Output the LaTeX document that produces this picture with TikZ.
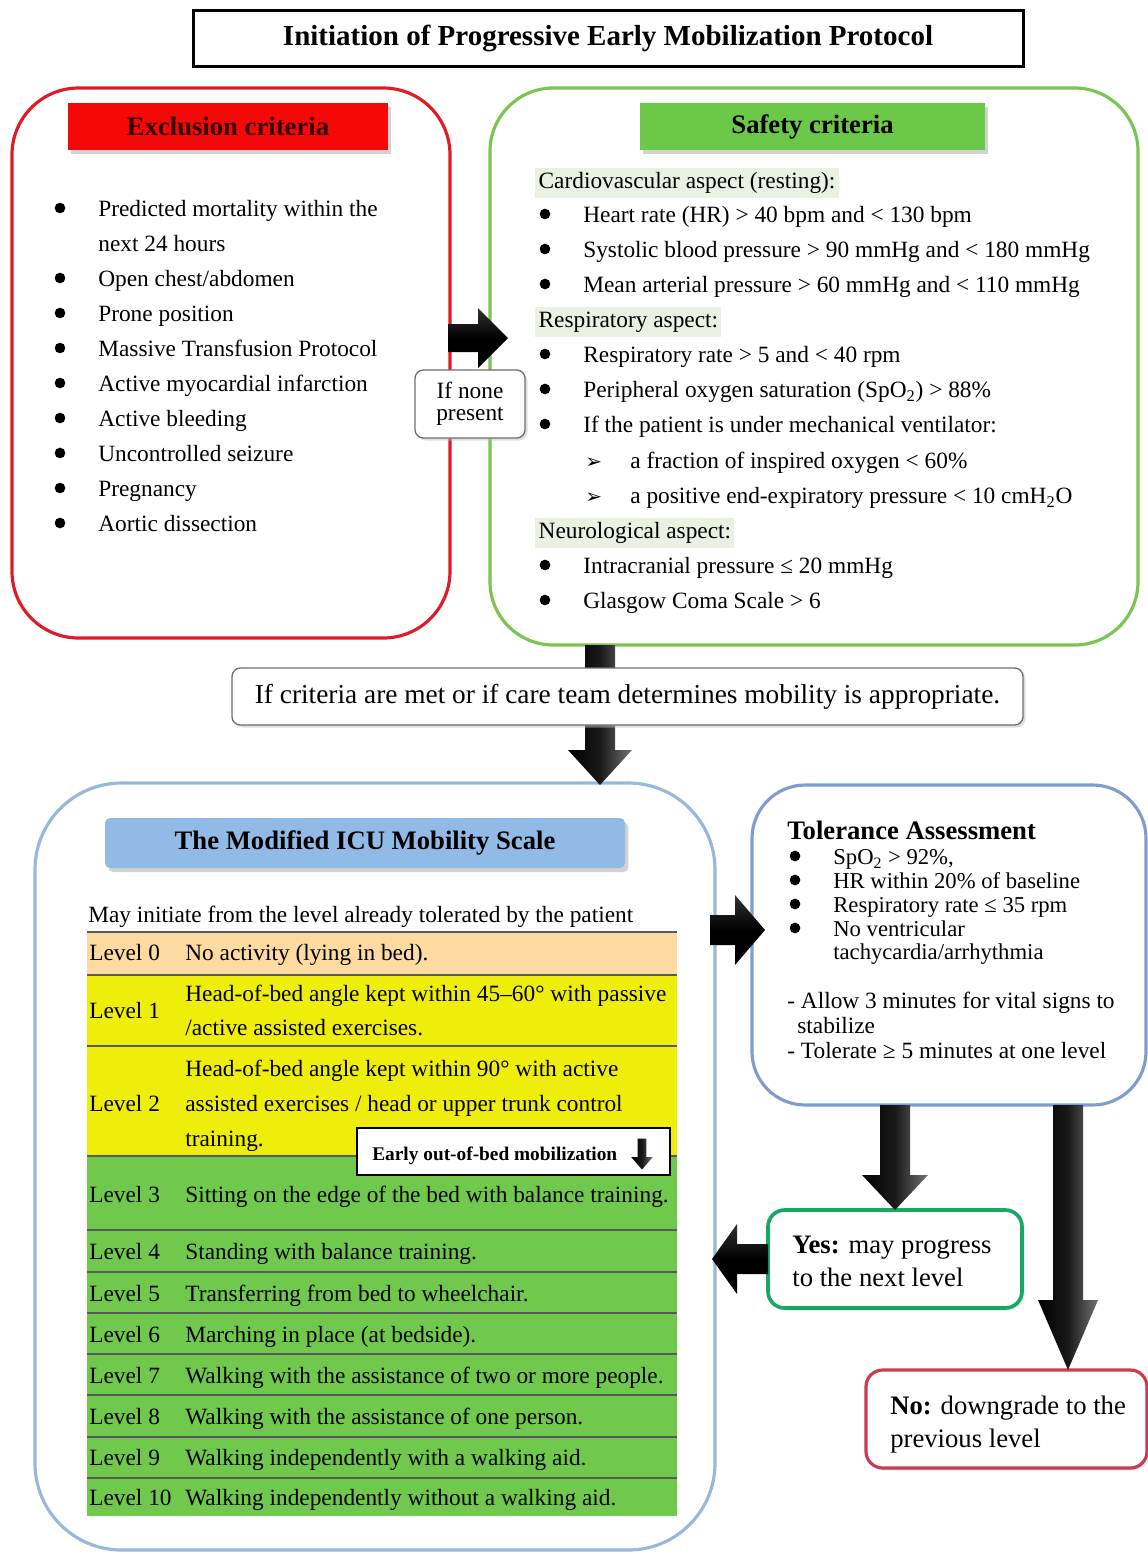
\documentclass[tikz,border=0pt]{standalone}
\usepackage{fontspec}
\setmainfont{Liberation Serif}
\newfontfamily\dejavu{DejaVu Sans}
\usetikzlibrary{calc,shadows}
\definecolor{exred}{RGB}{222,28,40}
\definecolor{exhead}{RGB}{245,8,8}
\definecolor{sfgreen}{RGB}{122,196,82}
\definecolor{sfhead}{RGB}{108,200,72}
\definecolor{aspbg}{RGB}{234,240,226}
\definecolor{scblue}{RGB}{150,184,220}
\definecolor{schead}{RGB}{146,186,230}
\definecolor{tolblue}{RGB}{128,156,206}
\definecolor{lvzero}{RGB}{252,218,160}
\definecolor{lvyel}{RGB}{238,238,10}
\definecolor{lvgrn}{RGB}{112,200,76}
\definecolor{yesgreen}{RGB}{24,168,100}
\definecolor{nored}{RGB}{200,60,80}
\definecolor{greyline}{RGB}{110,110,110}
% block arrow: [style]{from}{to}{half stem}{half head}{head length}
\newcommand{\blockarrow}[6][arrowv]{%
  \coordinate (bah) at ($(#3)!#6!(#2)$);
  \path[#1] ($(#2)!#4!90:(#3)$) -- ($(bah)!#4!90:(#3)$) -- ($(bah)!#5!90:(#3)$) -- (#3)
    -- ($(bah)!#5!-90:(#3)$) -- ($(bah)!#4!-90:(#3)$) -- ($(#2)!#4!-90:(#3)$) -- cycle;}
\tikzset{
  tx/.style={anchor=west, inner sep=0pt, yshift=-1.8pt, font=\fontsize{14}{16}\selectfont, text height=9.5pt, text depth=2.5pt},
  txt/.style={tx, font=\fontsize{13.6}{15}\selectfont, text height=9pt, text depth=2.4pt},
  txb/.style={tx, font=\bfseries\fontsize{16}{18}\selectfont, text height=11pt, text depth=3pt},
  asp/.style={tx, fill=aspbg, inner xsep=2pt, inner ysep=3pt},
  hdr/.style={inner sep=0pt, font=\bfseries\fontsize{16}{18}\selectfont,
     drop shadow={shadow xshift=2pt, shadow yshift=-2.5pt, fill=black!35}},
  bigbox/.style={draw, fill=white, inner sep=0pt, outer sep=0pt, line width=1.9pt},
  smallbox/.style={draw=greyline, fill=white, inner sep=0pt, line width=0.8pt, rounded corners=5pt,
     drop shadow={shadow xshift=1.5pt, shadow yshift=-1.5pt, fill=black!25}},
  arrowv/.style={left color=black, right color=black!55, middle color=black!90},
  arrowh/.style={top color=black!80, bottom color=black, middle color=black},
  rowline/.style={line width=1pt, black!65},
  bul/.style={fill=black},
}
\begin{document}
\begin{tikzpicture}[x=0.6pt, y=-0.6pt]
\useasboundingbox (0,0) rectangle (1147,1554);

% ---------- title
\node[draw, line width=1.8pt, inner sep=0pt, minimum width=830*0.6pt, minimum height=56*0.6pt,
  font=\bfseries\fontsize{17.4}{20}\selectfont] (title) at (608,38)
  {Initiation of Progressive Early Mobilization Protocol};

% ---------- big boxes
\node[bigbox, draw=exred, rounded corners=40pt, minimum width=438*0.6pt, minimum height=550*0.6pt] (excl) at (231,363) {};
\node[bigbox, draw=sfgreen, rounded corners=38pt, minimum width=648*0.6pt, minimum height=557*0.6pt] (safety) at (814,366.5) {};
\node[bigbox, draw=scblue, rounded corners=52pt, minimum width=680*0.6pt, minimum height=767*0.6pt] (scale) at (375,1166.5) {};
\node[bigbox, draw=tolblue, rounded corners=32pt, minimum width=394*0.6pt, minimum height=320*0.6pt] (tol) at (949,945) {};
\node[bigbox, draw=yesgreen, line width=2.2pt, rounded corners=10pt, minimum width=254*0.6pt, minimum height=98*0.6pt,
  drop shadow={shadow xshift=1.5pt, shadow yshift=-1.5pt, fill=black!20}] (yes) at (895,1259) {};
\node[bigbox, draw=nored, rounded corners=10pt, minimum width=281*0.6pt, minimum height=98*0.6pt,
  drop shadow={shadow xshift=1.5pt, shadow yshift=-1.5pt, fill=black!20}] (no) at (1006.5,1419) {};

% ---------- headers
\node[hdr, fill=exhead, text=black!80!red, minimum width=320*0.6pt, minimum height=47*0.6pt] (exh) at (228,126.5) {Exclusion criteria};
\node[hdr, fill=sfhead, minimum width=345*0.6pt, minimum height=47*0.6pt] (sfh) at (812.5,126.5) {Safety criteria};
\node[hdr, fill=schead, rounded corners=3pt, minimum width=520*0.6pt, minimum height=50*0.6pt] (sch) at (365,843) {The Modified ICU Mobility Scale};

% ---------- exclusion list
\foreach \yy in {208,278,313,348,383,418,453,488,523} \fill[bul] (60,\yy) circle[radius=3.2pt];
\node[tx] (e1) at (98,208) {Predicted mortality within the};
\node[tx] (e1b) at (98,243) {next 24 hours};
\node[tx] (e2) at (98,278) {Open chest/abdomen};
\node[tx] (e3) at (98,313) {Prone position};
\node[tx] (e4) at (98,348) {Massive Transfusion Protocol};
\node[tx] (e5) at (98,383) {Active myocardial infarction};
\node[tx] (e6) at (98,418) {Active bleeding};
\node[tx] (e7) at (98,453) {Uncontrolled seizure};
\node[tx] (e8) at (98,488) {Pregnancy};
\node[tx] (e9) at (98,523) {Aortic dissection};

% ---------- safety list
\node[asp] (s0) at (535,180) {Cardiovascular aspect (resting):};
\foreach \yy in {214,249,284,354,389,424,565,600} \fill[bul] (545,\yy) circle[radius=3.2pt];
\node[tx] (s1) at (583,214) {Heart rate (HR) > 40 bpm and < 130 bpm};
\node[tx] (s2) at (583,249) {Systolic blood pressure > 90 mmHg and < 180 mmHg};
\node[tx] (s3) at (583,284) {Mean arterial pressure > 60 mmHg and < 110 mmHg};
\node[asp] (r0) at (535,319) {Respiratory aspect:};
\node[tx] (r1) at (583,354) {Respiratory rate > 5 and < 40 rpm};
\node[tx] (r2) at (583,389) {Peripheral oxygen saturation (SpO\textsubscript{2}) > 88\%};
\node[tx] (r3) at (583,424) {If the patient is under mechanical ventilator:};
\node[tx, font=\dejavu\fontsize{12}{14}\selectfont] (ra) at (585,460) {➢};
\node[tx] (r4) at (630,460) {a fraction of inspired oxygen < 60\%};
\node[tx, font=\dejavu\fontsize{12}{14}\selectfont] (rb) at (585,495) {➢};
\node[tx] (r5) at (630,495) {a positive end-expiratory pressure < 10 cmH\textsubscript{2}O};
\node[asp] (n0) at (535,530) {Neurological aspect:};
\node[tx] (n1) at (583,565) {Intracranial pressure ≤ 20 mmHg};
\node[tx] (n2) at (583,600) {Glasgow Coma Scale > 6};

% ---------- arrow exclusion -> safety and the "if none" label
\coordinate (x1a) at ($(excl.east)+(-2,-25)$);
\coordinate (x1b) at ($(x1a -| safety.west)+(18,0)$);
\blockarrow[arrowh]{x1a}{x1b}{8.4pt}{18pt}{18pt}
\node[smallbox, minimum width=110*0.6pt, minimum height=68*0.6pt, align=center,
  font=\fontsize{14}{13.2}\selectfont] (ifnone) at (470,404) {If none\\present};

% ---------- arrow safety -> scale, with the criteria box on top
\coordinate (x2a) at ($(safety.south)+(-214,0)$);
\coordinate (x2b) at ($(x2a |- scale.north)+(0,2)$);
\blockarrow{x2a}{x2b}{9pt}{19.2pt}{21pt}
\node[smallbox, minimum width=791*0.6pt, minimum height=57*0.6pt,
  font=\fontsize{16.4}{19}\selectfont] (crit) at (627.5,696.5)
  {If criteria are met or if care team determines mobility is appropriate.};

% ---------- mobility table
\node[tx] (may) at (88,914) {May initiate from the level already tolerated by the patient};
\fill[lvzero] (87,932) rectangle (677,975);
\fill[lvyel] (87,975) rectangle (677,1156);
\fill[lvgrn] (87,1156) rectangle (677,1516);
\foreach \yy in {932,975,1046,1156,1230,1272,1313,1354,1395,1437,1478}
  \draw[rowline] (87,\yy) -- (677,\yy);
\node[tx] (l0) at (89,952) {Level 0};
\node[tx] (d0) at (185,952) {No activity (lying in bed).};
\node[tx] (l1) at (89,1010) {Level 1};
\node[tx] (d1a) at (185,993) {Head-of-bed angle kept within 45–60° with passive};
\node[tx] (d1b) at (185,1027) {/active assisted exercises.};
\node[tx] (l2) at (89,1103) {Level 2};
\node[tx] (d2a) at (185,1068) {Head-of-bed angle kept within 90° with active};
\node[tx] (d2b) at (185,1103) {assisted exercises / head or upper trunk control};
\node[tx] (d2c) at (185,1138) {training.};
\node[tx] (l3) at (89,1194) {Level 3};
\node[tx] (d3) at (185,1194) {Sitting on the edge of the bed with balance training.};
\node[tx] (l4) at (89,1251) {Level 4};
\node[tx] (d4) at (185,1251) {Standing with balance training.};
\node[tx] (l5) at (89,1293) {Level 5};
\node[tx] (d5) at (185,1293) {Transferring from bed to wheelchair.};
\node[tx] (l6) at (89,1334) {Level 6};
\node[tx] (d6) at (185,1334) {Marching in place (at bedside).};
\node[tx] (l7) at (89,1375) {Level 7};
\node[tx] (d7) at (185,1375) {Walking with the assistance of two or more people.};
\node[tx] (l8) at (89,1416) {Level 8};
\node[tx] (d8) at (185,1416) {Walking with the assistance of one person.};
\node[tx] (l9) at (89,1457) {Level 9};
\node[tx] (d9) at (185,1457) {Walking independently with a walking aid.};
\node[tx] (l10) at (89,1497) {Level 10};
\node[tx] (d10) at (185,1497) {Walking independently without a walking aid.};

% early out-of-bed box
\node[draw, line width=1.2pt, fill=white, inner sep=0pt, minimum width=313*0.6pt, minimum height=47*0.6pt] (early) at (513.5,1151.5) {};
\node[tx, font=\bfseries\fontsize{11.6}{13}\selectfont, text height=8pt, text depth=2pt] (earlyt) at (372,1152) {Early out-of-bed mobilization};
\coordinate (x7a) at ($(early.east)+(-29,-13)$);
\coordinate (x7b) at ($(early.east)+(-29,18)$);
\blockarrow{x7a}{x7b}{2.6pt}{6.5pt}{7.5pt}

% ---------- arrow scale -> tolerance
\coordinate (x3a) at ($(scale.east |- tol.west)+(-5,-15)$);
\coordinate (x3b) at ($(x3a -| tol.west)+(13,0)$);
\blockarrow[arrowh]{x3a}{x3b}{9pt}{21pt}{18pt}

% ---------- tolerance text
\node[txb] (tt) at (787,830) {Tolerance Assessment};
\foreach \yy in {856,880,904,928} \fill[bul] (795,\yy) circle[radius=3.2pt];
\node[txt] (t1) at (833,856) {SpO\textsubscript{2} > 92\%,};
\node[txt] (t2) at (833,880) {HR within 20\% of baseline};
\node[txt] (t3) at (833,904) {Respiratory rate ≤ 35 rpm};
\node[txt] (t4) at (833,928) {No ventricular};
\node[txt] (t4b) at (833,951) {tachycardia/arrhythmia};
\node[tx] (t5) at (787,1000) {- Allow 3 minutes for vital signs to};
\node[tx] (t5b) at (797,1025) {stabilize};
\node[tx] (t6) at (787,1050) {- Tolerate ≥ 5 minutes at one level};

% ---------- tolerance -> yes / no
\coordinate (x4a) at (yes.north |- tol.south);
\blockarrow{x4a}{yes.north}{9pt}{19.8pt}{21pt}
\coordinate (x5a) at ($(tol.south)+(119,0)$);
\coordinate (x5b) at (x5a |- no.north);
\blockarrow{x5a}{x5b}{9pt}{18pt}{42pt}
\coordinate (x6b) at ($(yes.west -| scale.east)+(-3,0)$);
\blockarrow[arrowh]{yes.west}{x6b}{9pt}{21pt}{15pt}

\node[tx, font=\fontsize{16}{18}\selectfont, text height=11pt, text depth=3pt] (y1) at (792,1244) {\textbf{Yes:} may progress};
\node[tx, font=\fontsize{16}{18}\selectfont, text height=11pt, text depth=3pt] (y2) at (792,1277) {to the next level};
\node[tx, font=\fontsize{16}{18}\selectfont, text height=11pt, text depth=3pt] (no1) at (890,1405) {\textbf{No:} downgrade to the};
\node[tx, font=\fontsize{16}{18}\selectfont, text height=11pt, text depth=3pt] (no2) at (890,1438) {previous level};
\end{tikzpicture}
\end{document}
